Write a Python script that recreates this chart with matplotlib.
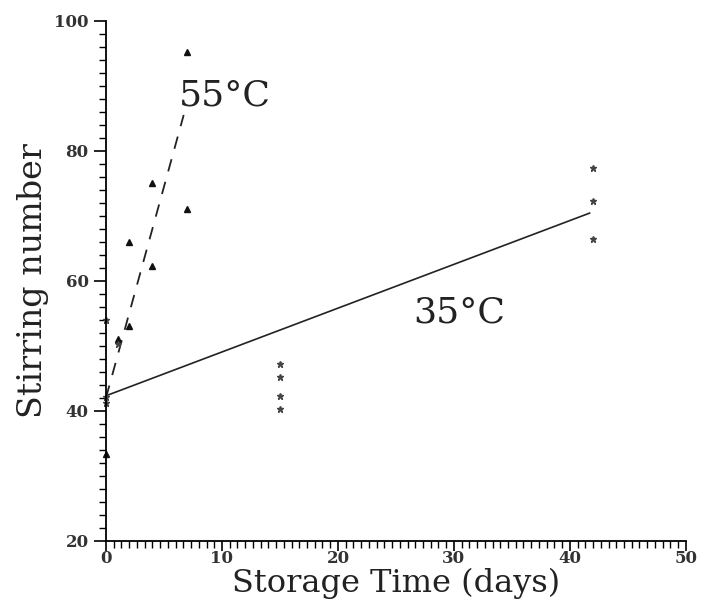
import matplotlib
matplotlib.use("Agg")
import matplotlib.pyplot as plt
from matplotlib.ticker import MultipleLocator

# 55 C samples (triangles)
days_55 = [0, 1, 2, 2, 4, 4, 7, 7]
stir_55 = [33.3, 51, 53, 66, 62.2, 75, 71, 95.2]
# 55 C fitted line (dashed), end points
fit55_x = [0, 6.7]
fit55_y = [42, 85.5]

# 35 C samples (small stars)
days_35 = [0, 0, 0, 1, 15, 15, 15, 15, 42, 42, 42]
stir_35 = [54, 42.1, 41.2, 50.3, 47.2, 45.2, 42.3, 40.3, 77.3, 72.3, 66.4]
# 35 C fitted line (solid), end points
fit35_x = [0, 41.7]
fit35_y = [42.3, 70.4]

fig = plt.figure(figsize=(7.02, 6.02), dpi=100)
ax = fig.add_axes([0.151, 0.1018, 0.826, 0.8638])

ax.plot(fit35_x, fit35_y, c="#222222", lw=1.2)
ax.plot(fit55_x, fit55_y, c="#222222", lw=1.3, dashes=(7, 6))
ax.plot(days_55, stir_55, "^", c="#111111", ms=4.5, clip_on=False)
ax.plot(days_35, stir_35, "*", c="#444444", ms=5, clip_on=False)

ax.text(6.3, 87, "55°C", fontsize=26, family="DejaVu Serif", color="#222222")
ax.text(26.5, 53.5, "35°C", fontsize=26, family="DejaVu Serif", color="#222222")

ax.set_xlim(0, 50)
ax.set_ylim(20, 100)
ax.xaxis.set_major_locator(MultipleLocator(10))
ax.xaxis.set_minor_locator(MultipleLocator(10 / 15))
ax.yaxis.set_major_locator(MultipleLocator(20))
ax.yaxis.set_minor_locator(MultipleLocator(2))

ax.spines["top"].set_visible(False)
ax.spines["right"].set_visible(False)
ax.spines["left"].set_linewidth(1.3)
ax.spines["bottom"].set_linewidth(1.3)

ax.tick_params(axis="both", which="major", direction="out", length=9, width=1.2, labelsize=12)
ax.tick_params(axis="x", which="major", length=7, pad=0)
ax.tick_params(axis="both", which="minor", direction="out", length=5, width=1.0)
for lab in ax.get_xticklabels() + ax.get_yticklabels():
    lab.set_family("DejaVu Serif")
    lab.set_fontweight("bold")
    lab.set_color("#333333")

ax.set_xlabel("Storage Time (days)", fontsize=23, family="DejaVu Serif", color="#222222", labelpad=0)
ax.set_ylabel("Stirring number", fontsize=24, family="DejaVu Serif", color="#222222", labelpad=4)

fig.savefig("out.png", dpi=100)
